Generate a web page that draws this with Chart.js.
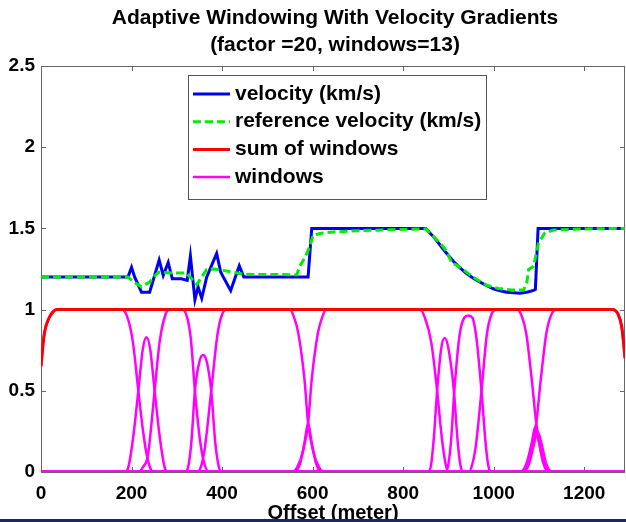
<!DOCTYPE html>
<html>
<head>
<meta charset="utf-8">
<script src="https://cdn.jsdelivr.net/npm/chart.js@4.4.0/dist/chart.umd.min.js"></script>
<style>
  html, body { margin: 0; padding: 0; background: #fff; }
  #wrap { position: relative; width: 626px; height: 522px; overflow: hidden; }
  #strip { position: absolute; left: 0; bottom: 0; width: 626px; height: 3px; background: #1c2760; }
</style>
</head>
<body>
<div id="wrap">
  <canvas id="plot" width="626" height="522"></canvas>
  <div id="strip"></div>
</div>
<script>
// values (offset in m, velocity in km/s)
const velOffsets = [0, 192, 200, 207, 222, 240, 261, 270, 281, 290, 310, 323, 330, 340, 347, 355, 366, 375, 388, 397, 419, 438, 448, 590, 598,
  850, 858, 867, 878, 889, 900, 911, 925, 940, 955, 970, 985, 999, 1014, 1029, 1044, 1058, 1075, 1088, 1092, 1098, 1290];
const velocity = [1.2, 1.2, 1.26, 1.2, 1.107, 1.107, 1.305, 1.21, 1.29, 1.19, 1.19, 1.18, 1.33, 1.062, 1.14, 1.07, 1.2, 1.26, 1.346, 1.23, 1.117, 1.27, 1.2, 1.2, 1.5,
  1.5, 1.475, 1.449, 1.41, 1.37, 1.333, 1.298, 1.258, 1.222, 1.193, 1.169, 1.147, 1.128, 1.116, 1.107, 1.103, 1.101, 1.108, 1.118, 1.125, 1.5, 1.5];

const refOffsets = [0, 192, 205, 222, 240, 259, 290, 321, 344, 366, 384, 425, 450, 565, 572, 583, 594, 601, 616, 645, 700, 800,
  850, 859, 870, 881, 896, 907, 925, 945, 960, 985, 1010, 1040, 1066, 1073, 1077, 1088, 1099, 1113, 1132, 1200, 1290];
const refVelocity = [1.2, 1.2, 1.17, 1.14, 1.17, 1.23, 1.225, 1.225, 1.154, 1.247, 1.25, 1.23, 1.217, 1.215, 1.27, 1.32, 1.391, 1.457, 1.469, 1.478, 1.486, 1.494,
  1.497, 1.473, 1.44, 1.412, 1.36, 1.29, 1.262, 1.22, 1.19, 1.15, 1.13, 1.12, 1.12, 1.165, 1.247, 1.267, 1.41, 1.473, 1.49, 1.497, 1.5];

const sumOffsets = [0, 7, 18, 28, 35, 1262, 1275, 1283, 1288, 1290];
const sumWindows = [0.65, 0.845, 0.95, 0.99, 1, 1, 0.97, 0.89, 0.76, 0.7];

const windowOffsets = [
  [0, 7, 18, 28, 35, 178, 190, 203, 215, 225, 234, 242, 250, 1290],
  [0, 185, 193, 203, 215, 225, 233, 241, 251, 263, 273, 281, 1290],
  [0, 216, 225, 236, 251, 262, 275, 285, 312, 322, 331, 340, 352, 362, 372, 1290],
  [0, 318, 325, 332, 340, 350, 358, 366, 376, 385, 393, 400, 1290],
  [0, 344, 353, 362, 376, 390, 400, 410, 550, 558, 568, 582, 590, 602, 614, 625, 1290],
  [0, 560, 572, 582, 590, 598, 608, 618, 1290],
  [0, 556, 566, 578, 590, 598, 612, 622, 630, 837, 848, 862, 875, 885, 893, 900, 1290],
  [0, 855, 862, 868, 875, 884, 892, 900, 912, 920, 926, 932, 1290],
  [0, 893, 900, 906, 913, 925, 935, 944, 953, 962, 973, 982, 988, 994, 1290],
  [0, 945, 952, 960, 973, 985, 995, 1007, 1051, 1062, 1072, 1084, 1094, 1105, 1115, 1128, 1290],
  [0, 1058, 1072, 1084, 1092, 1100, 1110, 1122, 1290],
  [0, 1066, 1078, 1089, 1097, 1106, 1116, 1130, 1290],
  [0, 1060, 1073, 1083, 1094, 1104, 1116, 1126, 1138, 1262, 1275, 1283, 1288, 1290]
];
const windowValues = [
  [0.65, 0.845, 0.95, 0.99, 1, 1, 0.96, 0.8, 0.5, 0.26, 0.1, 0.02, 0, 0],
  [0, 0, 0.03, 0.2, 0.5, 0.76, 0.83, 0.76, 0.5, 0.2, 0.03, 0, 0],
  [0, 0, 0.03, 0.1, 0.5, 0.8, 0.97, 1, 1, 0.96, 0.82, 0.5, 0.18, 0.04, 0, 0],
  [0, 0, 0.03, 0.18, 0.5, 0.68, 0.72, 0.68, 0.5, 0.18, 0.03, 0, 0],
  [0, 0, 0.03, 0.15, 0.5, 0.85, 0.97, 1, 1, 0.96, 0.86, 0.57, 0.3, 0.12, 0.03, 0, 0],
  [0, 0, 0.05, 0.18, 0.3, 0.18, 0.05, 0, 0],
  [0, 0, 0.03, 0.12, 0.3, 0.57, 0.86, 0.96, 1, 1, 0.95, 0.8, 0.5, 0.22, 0.06, 0, 0],
  [0, 0, 0.05, 0.22, 0.5, 0.76, 0.825, 0.76, 0.5, 0.2, 0.05, 0, 0],
  [0, 0, 0.05, 0.2, 0.5, 0.85, 0.95, 0.963, 0.95, 0.82, 0.5, 0.18, 0.04, 0, 0],
  [0, 0, 0.04, 0.15, 0.5, 0.85, 0.97, 1, 1, 0.96, 0.85, 0.57, 0.3, 0.12, 0.03, 0, 0],
  [0, 0, 0.05, 0.18, 0.28, 0.18, 0.05, 0, 0],
  [0, 0, 0.05, 0.17, 0.25, 0.17, 0.05, 0, 0],
  [0, 0, 0.03, 0.12, 0.3, 0.57, 0.85, 0.96, 1, 1, 0.97, 0.89, 0.76, 0.7]
];

const xTicks = [0, 200, 400, 600, 800, 1000, 1200];
const yTicks = [0, 0.5, 1, 1.5, 2, 2.5];
const legendOrder = ['velocity (km/s)', 'reference velocity (km/s)', 'sum of windows', 'windows'];
const titleLines = ['Adaptive Windowing With Velocity Gradients', '(factor =20, windows=13)'];

const FONT = '"Liberation Sans", Arial, Helvetica, sans-serif';

const pairs = (xs, ys) => xs.map((x, i) => ({ x: x, y: ys[i] }));

const datasets = [
  { label: 'reference velocity (km/s)', data: pairs(refOffsets, refVelocity), borderColor: '#00ee00', borderWidth: 3, borderDash: [8, 4] },
  { label: 'velocity (km/s)', data: pairs(velOffsets, velocity), borderColor: '#0000f0', borderWidth: 3 },
  { label: 'sum of windows', data: pairs(sumOffsets, sumWindows), borderColor: '#ff0000', borderWidth: 3, cubicInterpolationMode: 'monotone' }
];
windowOffsets.forEach((xs, i) => {
  datasets.push({ label: 'windows', data: pairs(xs, windowValues[i]), borderColor: '#ff00ff', borderWidth: 2.5, cubicInterpolationMode: 'monotone' });
});

// matlab style box, inward ticks, title and legend
const frame = {
  id: 'frame',
  beforeDatasetsDraw(chart) {
    const { ctx, chartArea: a, scales } = chart;
    ctx.save();
    ctx.strokeStyle = '#666';
    ctx.lineWidth = 1;
    ctx.strokeRect(a.left + 0.5, a.top + 0.5, a.right - a.left - 1, a.bottom - a.top);
    ctx.beginPath();
    scales.x.ticks.forEach(t => {
      const px = Math.round(scales.x.getPixelForValue(t.value)) + 0.5;
      ctx.moveTo(px, a.bottom); ctx.lineTo(px, a.bottom - 5);
      ctx.moveTo(px, a.top); ctx.lineTo(px, a.top + 5);
    });
    scales.y.ticks.forEach(t => {
      const py = Math.round(scales.y.getPixelForValue(t.value)) + 0.5;
      ctx.moveTo(a.left, py); ctx.lineTo(a.left + 5, py);
      ctx.moveTo(a.right, py); ctx.lineTo(a.right - 5, py);
    });
    ctx.stroke();
    ctx.restore();
  },
  afterDraw(chart) {
    const { ctx, chartArea: a } = chart;
    ctx.save();
    ctx.fillStyle = '#000';
    ctx.font = 'bold 21px ' + FONT;
    ctx.textAlign = 'center';
    ctx.textBaseline = 'middle';
    const cx = (a.left + a.right) / 2 + 2;
    ctx.fillText(titleLines[0], cx, 18);
    ctx.fillText(titleLines[1], cx, 45);

    // legend
    const box = { left: 188, top: 75, width: 298, height: 124 };
    ctx.fillStyle = '#fff';
    ctx.fillRect(box.left, box.top, box.width, box.height);
    ctx.strokeStyle = '#555';
    ctx.lineWidth = 1;
    ctx.strokeRect(box.left + 0.5, box.top + 0.5, box.width, box.height);
    ctx.font = 'bold 21px ' + FONT;
    ctx.textAlign = 'left';
    legendOrder.forEach((name, i) => {
      const ds = chart.data.datasets.find(d => d.label === name);
      const y = box.top + 19 + i * 27.7;
      ctx.strokeStyle = ds.borderColor;
      ctx.lineWidth = ds.borderWidth;
      ctx.setLineDash(ds.borderDash || []);
      ctx.beginPath();
      ctx.moveTo(193, y); ctx.lineTo(230, y);
      ctx.stroke();
      ctx.setLineDash([]);
      ctx.fillStyle = '#000';
      ctx.fillText(name, 235, y);
    });
    ctx.restore();
  }
};

const plainLabel = v => String(v);

new Chart(document.getElementById('plot').getContext('2d'), {
  type: 'line',
  data: { datasets: datasets },
  options: {
    responsive: false,
    animation: false,
    datasets: { line: { pointRadius: 0, fill: false, tension: 0 } },
    layout: { padding: { top: 66, right: 1, left: 0, bottom: 0 } },
    plugins: { legend: { display: false }, tooltip: { enabled: false }, title: { display: false } },
    scales: {
      x: {
        type: 'linear', min: 0, max: 1290,
        grid: { display: false, drawTicks: false },
        border: { display: false },
        afterBuildTicks: s => { s.ticks = xTicks.map(v => ({ value: v })); },
        afterFit: s => { s.height = 50; },
        ticks: { color: '#000', font: { family: FONT, size: 19, weight: 'bold' }, padding: 10, maxRotation: 0, autoSkip: false, callback: plainLabel },
        title: { display: true, text: 'Offset (meter)', color: '#000', font: { family: FONT, size: 20, weight: 'bold' }, padding: { top: 0, bottom: -3 } }
      },
      y: {
        type: 'linear', min: 0, max: 2.5,
        grid: { display: false, drawTicks: false },
        border: { display: false },
        afterBuildTicks: s => { s.ticks = yTicks.map(v => ({ value: v })); },
        afterFit: s => { s.width = 41; },
        ticks: { color: '#000', font: { family: FONT, size: 19, weight: 'bold' }, padding: 6, callback: plainLabel }
      }
    }
  },
  plugins: [frame]
});
</script>
</body>
</html>
